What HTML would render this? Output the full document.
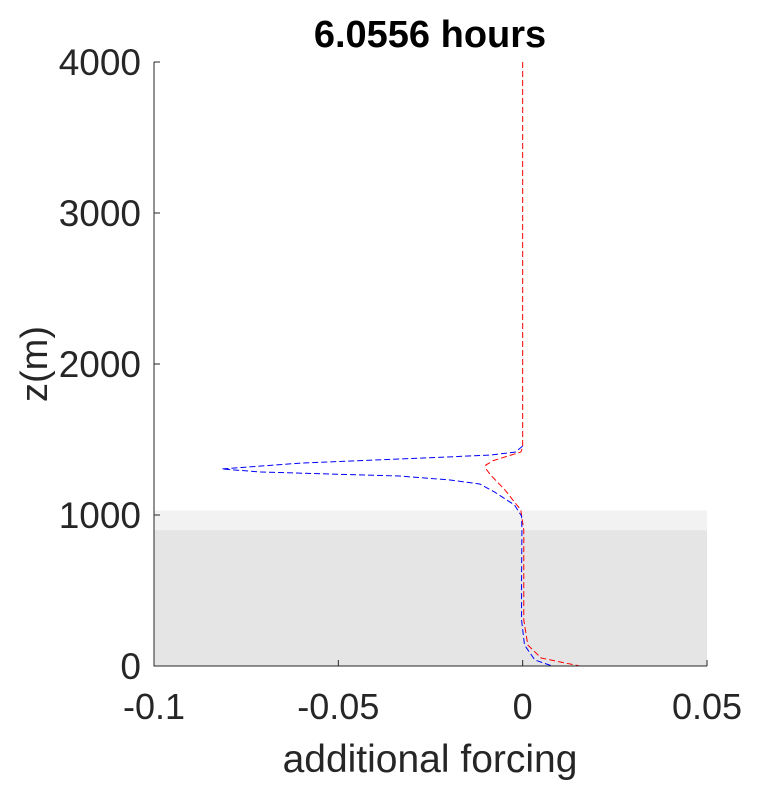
<!DOCTYPE html>
<html><head><meta charset="utf-8"><style>
body{margin:0;background:#fff}
text{font-family:"Liberation Sans",sans-serif;fill:#262626}
</style></head><body>
<svg id="chart" width="781" height="781" xmlns="http://www.w3.org/2000/svg">
<rect width="781" height="781" fill="#fff"/>
<g id="plot"></g>
</svg>
<script>
const xTicks=[-0.1,-0.05,0,0.05];
const xTickLabels=["-0.1","-0.05","0","0.05"];
const yTicks=[0,1000,2000,3000,4000];
const yTickLabels=["0","1000","2000","3000","4000"];
const bandLight=[900,1030];
const bandDark=[0,900];
const blueZ=[1457,1417,1397,1371,1344,1305,1285,1258,1232,1205,1152,1066,993,900,600,305,139,40,0];
const blueX=[0,-0.0019,-0.0087,-0.033,-0.060,-0.0816,-0.0713,-0.0333,-0.0197,-0.0116,-0.0076,-0.0022,-0.0003,-0.0002,-0.0003,-0.0003,0.0005,0.0033,0.008];
const redZ=[4000,1450,1417,1360,1331,1300,1265,1166,1033,900,600,305,139,53,0];
const redX=[0,0,-0.0005,-0.008,-0.010,-0.0098,-0.0087,-0.0048,-0.0005,0.0003,0.0003,0.0003,0.0014,0.005,0.0155];
const X0=154,X1=707,Y0=666,Y1=62;
const sx=v=>X0+(v-(-0.1))/(0.15)*(X1-X0);
const sy=v=>Y0-(v/4000)*(Y0-Y1);
const g=document.getElementById('plot');
const NS='http://www.w3.org/2000/svg';
function mk(t,a){const e=document.createElementNS(NS,t);for(const k in a)e.setAttribute(k,a[k]);g.appendChild(e);return e;}
let r=mk('rect',{x:X0,y:sy(bandLight[1]),width:X1-X0,height:sy(bandLight[0])-sy(bandLight[1]),fill:'#f2f2f2'});


r=mk('rect',{x:X0,y:sy(bandDark[1]),width:X1-X0,height:sy(bandDark[0])-sy(bandDark[1]),fill:'#e5e5e5'});


function line(xs,zs,col,name){const p=mk('polyline',{points:xs.map((v,i)=>sx(v)+','+sy(zs[i])).join(' '),fill:'none',stroke:col,'stroke-width':1,'stroke-dasharray':'6,3'});

}
line(redX,redZ,'#ff0000','red-series');
line(blueX,blueZ,'#0000ff','blue-series');
let ax=mk('path',{d:`M${X0},${Y1}V${Y0}H${X1}`,stroke:'#262626',fill:'none','stroke-width':1});


xTicks.forEach((v,i)=>{mk('line',{x1:sx(v),x2:sx(v),y1:Y0,y2:Y0-6,stroke:'#262626'});
const t=mk('text',{x:sx(v),y:Y0+53,'text-anchor':'middle','font-size':36});t.textContent=xTickLabels[i];

});
yTicks.forEach((v,i)=>{mk('line',{x1:X0,x2:X0+6,y1:sy(v),y2:sy(v),stroke:'#262626'});
const t=mk('text',{x:X0-13,y:sy(v)+13,'text-anchor':'end','font-size':37});t.textContent=yTickLabels[i];

});
let t=mk('text',{x:430,y:47,'text-anchor':'middle','font-size':38,'font-weight':'bold','style':'fill:#000'});t.textContent='6.0556 hours';


t=mk('text',{x:430,y:772,'text-anchor':'middle','font-size':39});t.textContent='additional forcing';


t=mk('text',{x:47,y:364,'text-anchor':'middle','font-size':38,transform:'rotate(-90 47 364)'});t.textContent='z(m)';


</script>
</body></html>
